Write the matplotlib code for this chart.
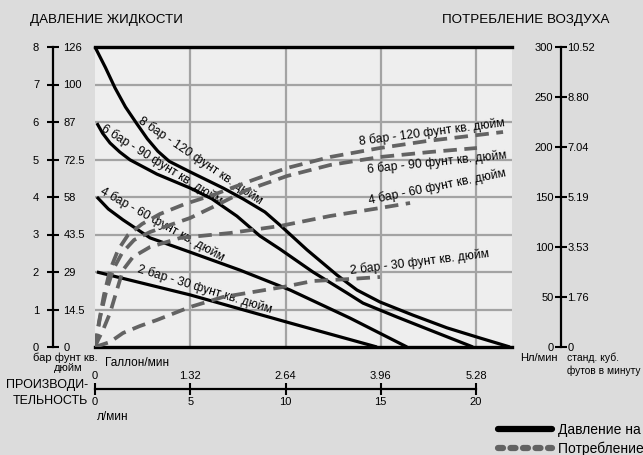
import matplotlib
matplotlib.use("Agg")
import matplotlib.pyplot as plt
from matplotlib.lines import Line2D

plt.rcParams['font.family'] = ['Liberation Sans', 'DejaVu Sans']

# ---------------- data ----------------
# left axis (fluid pressure)
bar_ticks = [0, 1, 2, 3, 4, 5, 6, 7, 8]
psi_labels = ['0', '14.5', '29', '43.5', '58', '72.5', '87', '100', '126']
# right axis (air consumption)
nl_ticks = [0, 50, 100, 150, 200, 250, 300]
scfm_labels = ['0', '1.76', '3.53', '5.19', '7.04', '8.80', '10.52']
# flow axis
lpm_ticks = [0, 5, 10, 15, 20]
gpm_labels = ['0', '1.32', '2.64', '3.96', '5.28']

# fluid pressure curves (l/min, bar)
p8_x = [0, 0.55, 1.05, 1.60, 2.20, 2.75, 3.30, 3.90, 4.99, 6.72, 7.77, 8.92, 9.71, 11.13, 12.70, 13.75, 14.96, 16.69, 18.48, 20.21, 21.78]
p8_y = [8.0, 7.45, 6.91, 6.40, 5.95, 5.55, 5.22, 4.95, 4.67, 4.24, 3.95, 3.60, 3.25, 2.59, 1.92, 1.52, 1.20, 0.85, 0.51, 0.24, 0.0]
p6_x = [0.10, 0.40, 0.79, 1.30, 1.84, 3.25, 4.99, 6.14, 7.45, 8.66, 9.71, 11.44, 13.23, 14.07, 15.85, 17.59, 19.84]
p6_y = [5.97, 5.70, 5.44, 5.20, 4.99, 4.61, 4.24, 3.95, 3.49, 2.96, 2.61, 2.00, 1.44, 1.17, 0.80, 0.45, 0.0]
p4_x = [0.10, 0.70, 1.47, 2.89, 4.99, 7.61, 10.24, 13.39, 16.38]
p4_y = [4.00, 3.68, 3.39, 2.91, 2.53, 2.05, 1.52, 0.77, 0.0]
p2_x = [0.10, 4.99, 10.24, 14.80]
p2_y = [2.0, 1.39, 0.64, 0.0]

# air consumption curves (l/min, Nl/min)
a8_x = [0, 0.21, 0.47, 0.79, 1.21, 1.73, 2.47, 3.41, 4.72, 6.19, 8.29, 10.08, 12.34, 14.96, 17.43, 21.42]
a8_y = [0, 25, 52, 77, 97, 112, 123, 133, 143, 152, 167, 179, 190, 199, 206, 215]
a6_x = [0, 0.26, 0.58, 0.94, 1.42, 2.05, 2.89, 3.94, 4.99, 6.19, 7.98, 10.08, 12.34, 14.96, 17.59, 20.05]
a6_y = [0, 29, 55, 77, 94, 107, 115, 122, 129, 140, 157, 171, 182, 190, 195, 199]
a4_x = [0, 0.16, 0.42, 0.79, 1.15, 1.47, 1.99, 2.89, 4.46, 7.09, 9.71, 12.34, 14.96, 16.54]
a4_y = [0, 7, 17, 34, 57, 77, 90, 100, 109, 114, 121, 131, 139, 144]
a2_x = [0, 0.79, 1.47, 2.36, 3.25, 4.99, 6.72, 9.87, 11.44, 13.39, 14.96]
a2_y = [0, 5, 14, 21, 27, 40, 50, 60, 66, 68, 70]

curve_labels = ['8 бар - 120 фунт кв. дюйм', '6 бар - 90 фунт кв. дюйм',
                '4 бар - 60 фунт кв. дюйм', '2 бар - 30 фунт кв. дюйм']

# ---------------- layout ----------------
W_PX, H_PX = 643, 455
fig = plt.figure(figsize=(W_PX / 100, H_PX / 100), dpi=100, facecolor='#dcdcdc')

def fx(px):
    return px / W_PX

def fy(py):
    return 1 - py / H_PX

L, R, T, B = 95, 512, 47, 347
XMAX = (R - L) / 19.05
ax = fig.add_axes([fx(L), fy(B), fx(R) - fx(L), fy(T) - fy(B)])
ax.set_facecolor('#eeeeee')
ax.set_xlim(0, XMAX)
ax.set_ylim(0, 8)
ax.set_xticks([5, 10, 15, 20])
ax.set_yticks(range(1, 8))
ax.tick_params(length=0, labelbottom=False, labelleft=False)
ax.grid(True, color='#a3a3a3', lw=1.6)
ax.set_axisbelow(True)
for s in ['left', 'right']:
    ax.spines[s].set_visible(False)
for s in ['top', 'bottom']:
    ax.spines[s].set_linewidth(2.4)
    ax.spines[s].set_color('black')

solid_kw = dict(color='black', lw=2.3, solid_capstyle='butt', solid_joinstyle='round', clip_on=False, zorder=3)
for xs, ys in [(p8_x, p8_y), (p6_x, p6_y), (p4_x, p4_y), (p2_x, p2_y)]:
    ax.plot(xs, ys, **solid_kw)

ax2 = ax.twinx()
ax2.set_ylim(0, 300)
ax2.axis('off')
dash_kw = dict(color='#636363', lw=2.7, dashes=(3.6, 2.0), dash_capstyle='butt', zorder=4)
for xs, ys in [(a8_x, a8_y), (a6_x, a6_y), (a4_x, a4_y), (a2_x, a2_y)]:
    ax2.plot(xs, ys, **dash_kw)

# curve labels (data coords of ax)
txt_kw = dict(fontsize=8.7, color='black', ha='center', va='center', rotation_mode='anchor', zorder=5)
solid_pos = [(5.56, 4.98, -34), (3.52, 4.85, -32), (3.52, 3.28, -29), (5.77, 1.55, -17)]
for lab, (x, y, r) in zip(curve_labels, solid_pos):
    ax.text(x, y, lab, rotation=r, **txt_kw)
dash_pos = [(17.69, 5.73, 7.4), (17.95, 4.93, 6), (17.95, 4.27, 11.5), (17.06, 2.27, 7)]
for lab, (x, y, r) in zip(curve_labels, dash_pos):
    ax.text(x, y, lab, rotation=r, **txt_kw)

# ---------------- left pressure scale ----------------
TICK_KW = dict(direction='inout', length=8, width=1.5, color='black', labelsize=8)
axL = fig.add_axes([fx(53), fy(B), 0.0001, fy(T) - fy(B)])
axL.set_ylim(0, 8)
axL.set_xticks([])
for s in ['top', 'bottom', 'right']:
    axL.spines[s].set_visible(False)
axL.spines['left'].set_linewidth(1.6)
axL.set_yticks(bar_ticks)
axL.set_yticklabels([str(v) for v in bar_ticks])
axL.tick_params(axis='y', pad=6, **TICK_KW)
axL.patch.set_alpha(0)
axL2 = axL.twinx()
axL2.set_ylim(0, 8)
axL2.set_yticks(bar_ticks)
axL2.set_yticklabels(psi_labels)
axL2.tick_params(axis='y', length=0, pad=7.5, labelsize=8)
for s in axL2.spines.values():
    s.set_visible(False)

# ---------------- right air scale ----------------
axR = fig.add_axes([fx(561), fy(B), 0.0001, fy(T) - fy(B)])
axR.set_ylim(0, 300)
axR.set_xticks([])
for s in ['top', 'bottom', 'right']:
    axR.spines[s].set_visible(False)
axR.spines['left'].set_linewidth(1.6)
axR.set_yticks(nl_ticks)
axR.set_yticklabels([str(v) for v in nl_ticks])
axR.tick_params(axis='y', pad=1.5, **TICK_KW)
axR.patch.set_alpha(0)
axR2 = axR.twinx()
axR2.set_ylim(0, 300)
axR2.set_yticks(nl_ticks)
axR2.set_yticklabels(scfm_labels)
axR2.tick_params(axis='y', length=0, pad=4.5, labelsize=8)
for s in axR2.spines.values():
    s.set_visible(False)

# ---------------- flow scale ----------------
axB = fig.add_axes([fx(L), fy(389), fx(R) - fx(L), 0.0001])
axB.set_xlim(0, XMAX)
axB.set_yticks([])
for s in ['top', 'left', 'right']:
    axB.spines[s].set_visible(False)
axB.spines['bottom'].set_linewidth(1.6)
axB.spines['bottom'].set_bounds(0, 20)
axB.set_xticks(lpm_ticks)
axB.set_xticklabels([str(v) for v in lpm_ticks])
axB.tick_params(axis='x', direction='inout', length=9, width=1.5, labelsize=8, pad=1.5)
axB.patch.set_alpha(0)
axB2 = axB.twiny()
axB2.set_xlim(0, XMAX)
axB2.set_xticks(lpm_ticks)
axB2.set_xticklabels(gpm_labels)
axB2.tick_params(axis='x', length=0, pad=5.5, labelsize=8)
for s in axB2.spines.values():
    s.set_visible(False)

# ---------------- texts ----------------
fig.text(fx(30), fy(20), 'ДАВЛЕНИЕ ЖИДКОСТИ', fontsize=9.6, ha='left', va='center')
fig.text(fx(609), fy(20), 'ПОТРЕБЛЕНИЕ ВОЗДУХА', fontsize=9.6, ha='right', va='center')
fig.text(fx(65), fy(357.5), 'бар фунт кв.', fontsize=8, ha='center', va='center')
fig.text(fx(68), fy(368), 'дюйм', fontsize=8, ha='center', va='center')
fig.text(fx(105), fy(363), 'Галлон/мин', fontsize=8.5, ha='left', va='center')
fig.text(fx(88), fy(385), 'ПРОИЗВОДИ-', fontsize=9, ha='right', va='center')
fig.text(fx(88), fy(401), 'ТЕЛЬНОСТЬ', fontsize=9, ha='right', va='center')
fig.text(fx(97), fy(417), 'л/мин', fontsize=8.5, ha='left', va='center')
fig.text(fx(558), fy(358), 'Нл/мин', fontsize=8, ha='right', va='center')
fig.text(fx(567), fy(358), 'станд. куб.', fontsize=7.5, ha='left', va='center')
fig.text(fx(567), fy(371), 'футов в минуту', fontsize=7.3, ha='left', va='center')

# ---------------- legend ----------------
h1 = Line2D([], [], color='black', lw=4.5, solid_capstyle='round')
h2 = Line2D([], [], color='#636363', lw=4.5, dashes=(0.8, 1.2), dash_capstyle='round')
fig.legend([h1, h2], ['Давление на выходе', 'Потребление воздуха'],
           loc='center left', bbox_to_anchor=(fx(498), fy(439.5)), frameon=False,
           fontsize=10, handlelength=3.9, handletextpad=0.4, labelspacing=0.35,
           borderpad=0, borderaxespad=0)

fig.savefig('out.png', dpi=100, facecolor=fig.get_facecolor())
